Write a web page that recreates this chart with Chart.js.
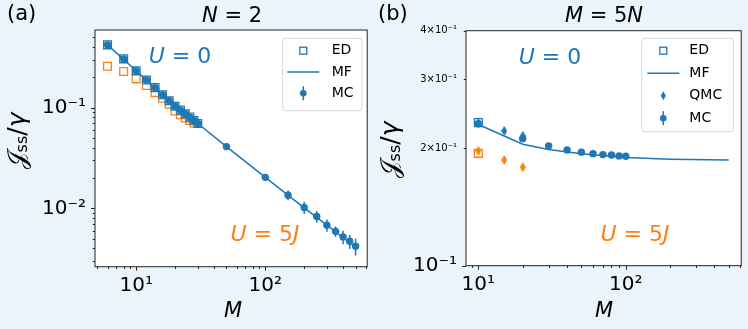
<!DOCTYPE html>
<html>
<head>
<meta charset="utf-8">
<script src="https://cdn.jsdelivr.net/npm/chart.js@4.4.0/dist/chart.umd.min.js"></script>
<style>
  html, body { margin: 0; padding: 0; background: #ebf3fb; }
  #wrap { display: flex; width: 748px; height: 329px; }
  canvas { display: block; }
</style>
</head>
<body>
<div id="wrap">
  <canvas id="chartA" width="374" height="329"></canvas>
  <canvas id="chartB" width="374" height="329"></canvas>
</div>
<script>
const FONT = "DejaVu Sans";
const BLUE = "#1f77b4";
const ORANGE = "#ff7f0e";

// ---- panel (a): N = 2 ----
const mA_mc = [6, 8, 10, 12, 14, 16, 18, 20, 22, 24, 26, 28, 30, 50, 100, 150, 200, 250, 300, 350, 400, 450, 500];
const jA_mc = [0.42, 0.305, 0.232, 0.188, 0.158, 0.134, 0.117, 0.103, 0.0945, 0.087, 0.0805, 0.0745, 0.0695,
               0.041, 0.0203, 0.0135, 0.0102, 0.0083, 0.0068, 0.0059, 0.0052, 0.0047, 0.0042];
const errA_mc = [0, 0, 0, 0, 0, 0, 0, 0, 0, 0, 0, 0, 0,
                 0.0006, 0.0008, 0.0015, 0.0014, 0.0011, 0.00095, 0.0007, 0.0008, 0.00075, 0.0008];
const mA_ed = [6, 8, 10, 12, 14, 16, 18, 20, 22, 24, 26, 28, 30];
const jA_edU0 = [0.42, 0.305, 0.232, 0.188, 0.158, 0.134, 0.117, 0.103, 0.0945, 0.087, 0.0805, 0.0745, 0.0695];
const mA_ed5 = [6, 8, 10, 12, 14, 16, 18, 20, 22, 24, 26, 28];
const jA_edU5 = [0.258, 0.228, 0.193, 0.166, 0.141, 0.124, 0.108, 0.0927, 0.085, 0.079, 0.0745, 0.0705];
const mA_mf = [6, 10, 20, 30, 50, 100, 200, 300, 400, 500];
const jA_mf = [0.42, 0.232, 0.103, 0.0695, 0.041, 0.0203, 0.0101, 0.0068, 0.0051, 0.0041];

const xTicksA = [5, 6, 7, 8, 9, 10, 20, 30, 40, 50, 60, 70, 80, 90, 100, 200, 300, 400, 500, 600];
const yTicksA = [0.003, 0.004, 0.005, 0.006, 0.007, 0.008, 0.009, 0.01, 0.02, 0.03, 0.04, 0.05, 0.06, 0.07, 0.08, 0.09, 0.1, 0.2, 0.3, 0.4, 0.5];

// ---- panel (b): M = 5N ----
const mB_mc = [10, 20, 30, 40, 50, 60, 70, 80, 90, 100];
const jB_mc = [0.231, 0.2116, 0.2028, 0.198, 0.1954, 0.1937, 0.1926, 0.1922, 0.1911, 0.1907];
const errB_mc = [0.003, 0.002, 0, 0, 0, 0, 0, 0, 0, 0];
const mB_qmc = [10, 15, 20];
const jB_qmcU0 = [0.232, 0.2215, 0.215];
const jB_qmcU5 = [0.1968, 0.1866, 0.1788];
const errB_qmc = [0.003, 0.003, 0.003];
const mB_ed = [10];
const jB_edU0 = [0.2326];
const jB_edU5 = [0.194];
const mB_mf = [10, 20, 30, 50, 100, 200, 500];
const jB_mf = [0.230, 0.2048, 0.1985, 0.1935, 0.1893, 0.1875, 0.1865];

const xTicksB = [9, 10, 20, 30, 40, 50, 60, 70, 80, 90, 100, 200, 300, 400, 500, 600];
const yTicksB = [0.1, 0.2, 0.3, 0.4];

const xLabels = { 10: "10\u00b9", 100: "10\u00b2" };
const yLabelsA = { 0.01: "10\u207b\u00b2", 0.1: "10\u207b\u00b9" };
const yLabelsB = { 0.1: "10\u207b\u00b9", 0.2: "2\u00d710\u207b\u00b9", 0.3: "3\u00d710\u207b\u00b9", 0.4: "4\u00d710\u207b\u00b9" };

function pts(xs, ys) { return xs.map((x, i) => ({ x: x, y: ys[i] })); }

function thinDiamond(color, w, h) {
  const c = document.createElement("canvas");
  c.width = w; c.height = h;
  const g = c.getContext("2d");
  g.fillStyle = color;
  g.beginPath();
  g.moveTo(w / 2, 0); g.lineTo(w, h / 2); g.lineTo(w / 2, h); g.lineTo(0, h / 2);
  g.closePath(); g.fill();
  return c;
}

function isDecade(v) {
  const l = Math.log10(v);
  return Math.abs(l - Math.round(l)) < 1e-9;
}

function drawRich(ctx, parts, x, y, size, color, align) {
  const fonts = parts.map(p => (p.it ? "italic " : "") + (p.sz || size) + "px " + FONT);
  let w = 0;
  const ws = parts.map((p, i) => { ctx.font = fonts[i]; const m = ctx.measureText(p.t).width; w += m; return m; });
  let cx = align === "center" ? x - w / 2 : x;
  ctx.fillStyle = color;
  ctx.textBaseline = "middle";
  ctx.textAlign = "left";
  parts.forEach((p, i) => { ctx.font = fonts[i]; ctx.fillText(p.t, cx, y + (p.dy || 0)); cx += ws[i]; });
}

// white plot area, full box and tick marks
const framePlugin = {
  id: "frame",
  beforeDraw(chart) {
    const a = chart.chartArea, ctx = chart.ctx;
    ctx.save();
    ctx.fillStyle = "#ffffff";
    ctx.fillRect(a.left, a.top, a.width, a.height);
    ctx.restore();
  },
  afterDraw(chart) {
    const a = chart.chartArea, ctx = chart.ctx;
    ctx.save();
    ctx.strokeStyle = "#222";
    ctx.lineWidth = 1;
    ctx.strokeRect(a.left, a.top, a.width, a.height);
    const sx = chart.scales.x, sy = chart.scales.y;
    ctx.beginPath();
    sx.ticks.forEach(t => {
      const px = Math.round(sx.getPixelForValue(t.value)) + 0.5;
      const len = isDecade(t.value) ? 4 : 2.2;
      ctx.moveTo(px, a.bottom); ctx.lineTo(px, a.bottom + len);
    });
    sy.ticks.forEach(t => {
      const py = Math.round(sy.getPixelForValue(t.value)) + 0.5;
      const len = isDecade(t.value) ? 4 : 2.2;
      ctx.moveTo(a.left, py); ctx.lineTo(a.left - len, py);
    });
    ctx.stroke();
    ctx.restore();
  }
};

// vertical error bars under markers
const errorBarPlugin = {
  id: "errorBars",
  beforeDatasetDraw(chart, args) {
    const ds = chart.data.datasets[args.index];
    if (!ds.yErr) return;
    const sx = chart.scales.x, sy = chart.scales.y, ctx = chart.ctx;
    ctx.save();
    ctx.strokeStyle = ds.pointBackgroundColor;
    ctx.lineWidth = 1.5;
    ds.data.forEach((p, i) => {
      const e = ds.yErr[i];
      if (!e) return;
      const px = sx.getPixelForValue(p.x);
      ctx.beginPath();
      ctx.moveTo(px, sy.getPixelForValue(p.y - e));
      ctx.lineTo(px, sy.getPixelForValue(p.y + e));
      ctx.stroke();
    });
    ctx.restore();
  }
};

function drawMarker(ctx, kind, x, y) {
  ctx.save();
  ctx.strokeStyle = BLUE; ctx.fillStyle = BLUE;
  if (kind === "square") {
    ctx.lineWidth = 1.3;
    ctx.strokeRect(x - 3.5, y - 3.5, 7, 7);
  } else if (kind === "line") {
    ctx.lineWidth = 1.5;
    ctx.beginPath(); ctx.moveTo(x - 16, y); ctx.lineTo(x + 16, y); ctx.stroke();
  } else if (kind === "diamond") {
    ctx.beginPath();
    ctx.moveTo(x, y - 4.5); ctx.lineTo(x + 2.5, y); ctx.lineTo(x, y + 4.5); ctx.lineTo(x - 2.5, y);
    ctx.closePath(); ctx.fill();
  } else if (kind === "errdot") {
    ctx.lineWidth = 1.5;
    ctx.beginPath(); ctx.moveTo(x, y - 7); ctx.lineTo(x, y + 7); ctx.stroke();
    ctx.beginPath(); ctx.arc(x, y, 3.3, 0, Math.PI * 2); ctx.fill();
  }
  ctx.restore();
}

function makeLegend(cfg) {
  return {
    id: "boxLegend",
    afterDraw(chart) {
      const ctx = chart.ctx;
      ctx.save();
      ctx.beginPath();
      ctx.roundRect(cfg.x, cfg.y, cfg.w, cfg.h, 3);
      ctx.globalAlpha = 0.8;
      ctx.fillStyle = "#ffffff";
      ctx.fill();
      ctx.globalAlpha = 1;
      ctx.strokeStyle = "#d6d6d6";
      ctx.lineWidth = 1;
      ctx.stroke();
      cfg.items.forEach((it, i) => {
        const cy = cfg.y0 + i * cfg.rowH;
        drawMarker(ctx, it.kind, cfg.mx, cy);
        ctx.fillStyle = "#000";
        ctx.font = "14px " + FONT;
        ctx.textBaseline = "middle";
        ctx.textAlign = "left";
        ctx.fillText(it.label, cfg.tx, cy);
      });
      ctx.restore();
    }
  };
}

function makeTexts(items, yTitle) {
  return {
    id: "texts",
    afterDraw(chart) {
      const ctx = chart.ctx;
      ctx.save();
      items.forEach(t => drawRich(ctx, t.parts, t.x, t.y, t.size, t.color || "#000", t.align || "center"));
      ctx.translate(yTitle.x, yTitle.y);
      ctx.rotate(-Math.PI / 2);
      drawRich(ctx, [
        { t: "\ud835\udca5", sz: 25 },
        { t: "ss", sz: 16, dy: 5 },
        { t: "/", sz: 25 },
        { t: "\u03b3", sz: 25, it: true }
      ], 0, 0, 25, "#000", "center");
      ctx.restore();
    }
  };
}

function logScales(o) {
  return {
    x: {
      type: "logarithmic", min: o.xmin, max: o.xmax,
      afterBuildTicks: s => { s.ticks = o.xTicks.map(v => ({ value: v })); },
      afterFit: s => { s.height = o.xh; },
      grid: { display: false, drawTicks: true, tickLength: 4 },
      border: { display: false },
      ticks: {
        autoSkip: false, maxRotation: 0, padding: 3.5, color: "#000",
        font: { family: FONT, size: 20 },
        callback: v => xLabels[v] || ""
      }
    },
    y: {
      type: "logarithmic", min: o.ymin, max: o.ymax,
      afterBuildTicks: s => { s.ticks = o.yTicks.map(v => ({ value: v })); },
      afterFit: s => { s.width = o.yw; },
      grid: { display: false, drawTicks: true, tickLength: 4 },
      border: { display: false },
      ticks: {
        autoSkip: false, padding: 5, color: "#000",
        font: o.yFont,
        callback: v => o.yLabels[v] || ""
      }
    }
  };
}

const commonOpts = {
  responsive: false,
  devicePixelRatio: 1,
  animation: false,
  events: [],
  plugins: { legend: { display: false }, tooltip: { enabled: false } }
};

// ---- chart (a) ----
new Chart(document.getElementById("chartA"), {
  type: "scatter",
  data: {
    datasets: [
      { label: "MF", data: pts(mA_mf, jA_mf), showLine: true, borderColor: BLUE, borderWidth: 1.5, pointRadius: 0, order: 3 },
      { label: "ED U=5J", data: pts(mA_ed5, jA_edU5), pointStyle: "rect", pointRadius: 5.5, pointBorderWidth: 1.3,
        pointBorderColor: ORANGE, pointBackgroundColor: "rgba(0,0,0,0)", order: 4 },
      { label: "MC", data: pts(mA_mc, jA_mc), yErr: errA_mc, pointStyle: "circle", pointRadius: 3.7, pointBorderWidth: 0,
        pointBackgroundColor: BLUE, pointBorderColor: BLUE, order: 1 },
      { label: "ED", data: pts(mA_ed, jA_edU0), pointStyle: "rect", pointRadius: 5.5, pointBorderWidth: 1.3,
        pointBorderColor: BLUE, pointBackgroundColor: "rgba(0,0,0,0)", order: 2 }
    ]
  },
  options: Object.assign({}, commonOpts, {
    layout: { padding: { left: 0, top: 30, right: 5, bottom: 0 } },
    scales: logScales({
      xmin: 4.8, xmax: 615, ymin: 0.00263, ymax: 0.59,
      xTicks: xTicksA, yTicks: yTicksA, xh: 62.3, yw: 95,
      yLabels: yLabelsA, yFont: { family: FONT, size: 20 }
    })
  }),
  plugins: [framePlugin, errorBarPlugin,
    makeLegend({ x: 282.7, y: 38.3, w: 79.3, h: 72.4, y0: 50.7, rowH: 21.3, mx: 303.3, tx: 331.7,
      items: [{ kind: "square", label: "ED" }, { kind: "line", label: "MF" }, { kind: "errdot", label: "MC" }] }),
    makeTexts([
      { parts: [{ t: "(a)" }], x: 7, y: 15, size: 21, align: "left" },
      { parts: [{ t: "N", it: true }, { t: " = 2" }], x: 232, y: 17, size: 21 },
      { parts: [{ t: "U", it: true }, { t: " = 0" }], x: 180, y: 57, size: 22, color: BLUE },
      { parts: [{ t: "U", it: true }, { t: " = 5" }, { t: "J", it: true }], x: 265, y: 235, size: 22, color: ORANGE },
      { parts: [{ t: "M", it: true }], x: 233, y: 312, size: 21 }
    ], { x: 18, y: 141 })
  ]
});

// ---- chart (b) ----
new Chart(document.getElementById("chartB"), {
  type: "scatter",
  data: {
    datasets: [
      { label: "MF", data: pts(mB_mf, jB_mf), showLine: true, borderColor: BLUE, borderWidth: 1.5, pointRadius: 0, order: 4 },
      { label: "ED U=5J", data: pts(mB_ed, jB_edU5), pointStyle: "rect", pointRadius: 5.5, pointBorderWidth: 1.3,
        pointBorderColor: ORANGE, pointBackgroundColor: "rgba(0,0,0,0)", order: 3 },
      { label: "QMC U=5J", data: pts(mB_qmc, jB_qmcU5), yErr: errB_qmc, pointStyle: thinDiamond(ORANGE, 6, 10),
        pointBackgroundColor: ORANGE, order: 2 },
      { label: "ED", data: pts(mB_ed, jB_edU0), pointStyle: "rect", pointRadius: 5.5, pointBorderWidth: 1.3,
        pointBorderColor: BLUE, pointBackgroundColor: "rgba(0,0,0,0)", order: 3 },
      { label: "QMC", data: pts(mB_qmc, jB_qmcU0), yErr: errB_qmc, pointStyle: thinDiamond(BLUE, 6, 10),
        pointBackgroundColor: BLUE, order: 1 },
      { label: "MC", data: pts(mB_mc, jB_mc), yErr: errB_mc, pointStyle: "circle", pointRadius: 3.7, pointBorderWidth: 0,
        pointBackgroundColor: BLUE, pointBorderColor: BLUE, order: 1 }
    ]
  },
  options: Object.assign({}, commonOpts, {
    layout: { padding: { left: 0, top: 30.7, right: 6.7, bottom: 0 } },
    scales: logScales({
      xmin: 8.25, xmax: 607, ymin: 0.1, ymax: 0.4,
      xTicks: xTicksB, yTicks: yTicksB, xh: 63.3, yw: 92,
      yLabels: yLabelsB,
      yFont: ctx => ({ family: FONT, size: ctx.tick && ctx.tick.value === 0.1 ? 20 : 10 })
    })
  }),
  plugins: [framePlugin, errorBarPlugin,
    makeLegend({ x: 267.7, y: 38.3, w: 91.6, h: 93.4, y0: 50.7, rowH: 22.5, mx: 289.3, tx: 315.3,
      items: [{ kind: "square", label: "ED" }, { kind: "line", label: "MF" },
              { kind: "diamond", label: "QMC" }, { kind: "errdot", label: "MC" }] }),
    makeTexts([
      { parts: [{ t: "(b)" }], x: 4, y: 15, size: 21, align: "left" },
      { parts: [{ t: "M", it: true }, { t: " = 5" }, { t: "N", it: true }], x: 230, y: 17, size: 21 },
      { parts: [{ t: "U", it: true }, { t: " = 0" }], x: 176, y: 58, size: 22, color: BLUE },
      { parts: [{ t: "U", it: true }, { t: " = 5" }, { t: "J", it: true }], x: 261, y: 235, size: 22, color: ORANGE },
      { parts: [{ t: "M", it: true }], x: 230, y: 312, size: 21 }
    ], { x: 17, y: 150 })
  ]
});
</script>
</body>
</html>
